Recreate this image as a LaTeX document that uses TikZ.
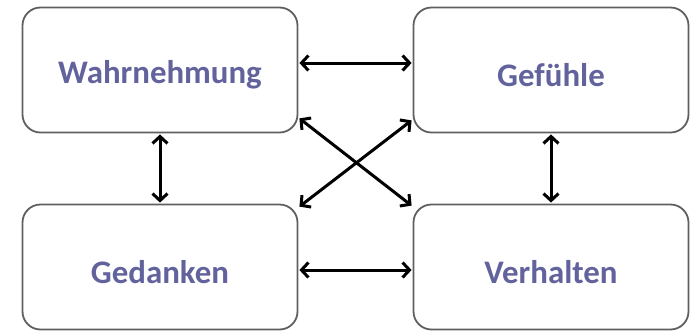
\documentclass[tikz,border=0pt]{standalone}
\usepackage{fontspec}
\setmainfont{Carlito}
\usetikzlibrary{arrows.meta,calc}
\definecolor{txtblue}{RGB}{98,99,156}
\definecolor{boxgray}{RGB}{95,95,95}
\newcommand{\boxtext}[1]{\raisebox{-5bp}[\height][\depth]{#1}}
\begin{document}
\begin{tikzpicture}[x=1bp,y=-1bp,
  box/.style={draw=boxgray,line width=1.8bp,rounded corners=18bp,fill=white,
    minimum width=275bp,minimum height=125bp,inner sep=0pt,
    font=\fontsize{33}{38}\selectfont\bfseries,text=txtblue},
  conn/.style={line width=3bp,{Straight Barb[length=7bp,width=15bp]}-{Straight Barb[length=7bp,width=15bp]}}]
\useasboundingbox (0,0) rectangle (691,330);
\node[box] (wa) at (160,70) {\boxtext{Wahrnehmung}};
\node[box] (ge) at (551,70) {\boxtext{Gefühle}};
\node[box] (gd) at (160,267) {\boxtext{Gedanken}};
\node[box] (ve) at (551,267) {\boxtext{Verhalten}};
\draw[conn] ($(wa.east)+(1,-7)$) -- ($(ge.west)+(-1,-7)$);
\draw[conn] ($(gd.east)+(1,3)$) -- ($(ve.west)+(-1,3)$);
\draw[conn] ($(wa.south)+(0,1)$) -- ($(gd.north)+(0,-1)$);
\draw[conn] ($(ge.south)+(0,1)$) -- ($(ve.north)+(0,-1)$);
\draw[conn] ($(wa.south east)+(1,-15)$) -- ($(ve.north west)+(-1,2)$);
\draw[conn] ($(ge.south west)+(-1,-13)$) -- ($(gd.north east)+(1,3)$);
\end{tikzpicture}
\end{document}
